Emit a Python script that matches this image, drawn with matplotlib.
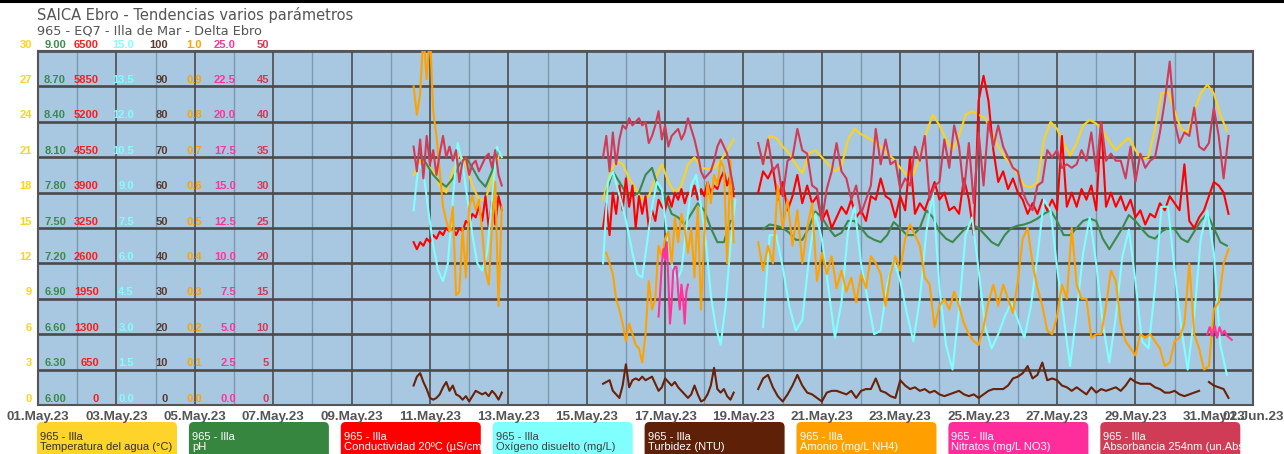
import numpy as np
import matplotlib.pyplot as plt
from matplotlib.patches import FancyBboxPatch
from matplotlib import transforms

plt.rcParams['font.family'] = ['Liberation Sans', 'DejaVu Sans']

W, H = 1284, 454

# ---- data (readings), hours counted from 01.May.23 00:00 ----
# temperatura del agua (ºC), one reading every 4 h
TEMP_A = [19.5, 20.7, 20.4, 19.8, 18.6, 18.0, 19.8, 21.3, 20.4, 18.6, 17.4, 17.4, 19.2, 21.0]
TEMP_B = [17.4, 19.5, 20.7, 20.4, 19.2, 18.3, 17.4, 17.7, 19.2, 20.4, 18.9, 18.0, 18.6, 20.4,
          21.0, 20.1, 20.0, 20.1, 20.7, 21.6, 22.5]
TEMP_C = [20.4, 22.8, 22.65, 21.9, 21.3, 20.4, 19.65, 21.3, 21.6, 21.0, 20.4, 19.8, 20.25, 22.5,
          23.4, 22.95, 22.65, 22.35, 21.9, 21.3, 20.85, 20.1, 19.5, 19.5, 21.0, 23.1, 24.6, 23.7,
          22.5, 21.6, 22.8, 24.6, 24.9, 24.6, 24.3, 23.1, 21.9, 21.0, 20.4, 19.5, 18.6, 18.45,
          18.9, 22.5, 24.0, 23.4, 22.2, 21.15, 22.2, 23.7, 24.15, 23.85, 23.25, 22.35, 21.6, 22.2,
          22.65, 21.6, 20.85, 21.0, 23.4, 26.4, 26.55, 24.9, 23.4, 23.1, 24.9, 26.4, 27.15, 26.4,
          24.6, 23.25]

# pH, every 4 h
PH_A = [8.13, 8.04, 7.95, 7.89, 7.85, 7.92, 8.04, 8.10, 8.01, 7.91, 7.85, 7.98, 8.16]
PH_B = [7.80, 7.98, 7.89, 7.80, 7.77, 7.80, 7.95, 8.01, 7.83, 7.77, 7.62, 7.59, 7.53, 7.62,
        7.71, 7.65, 7.50, 7.38, 7.38, 7.56]
PH_C = [7.49, 7.53, 7.52, 7.50, 7.46, 7.40, 7.40, 7.50, 7.64, 7.59, 7.50, 7.43, 7.46, 7.56,
        7.56, 7.50, 7.43, 7.40, 7.38, 7.44, 7.55, 7.50, 7.44, 7.44, 7.50, 7.65, 7.59, 7.47,
        7.41, 7.38, 7.44, 7.50, 7.53, 7.50, 7.44, 7.38, 7.35, 7.44, 7.50, 7.52, 7.53, 7.55,
        7.58, 7.62, 7.65, 7.56, 7.44, 7.44, 7.50, 7.56, 7.58, 7.56, 7.41, 7.32, 7.41, 7.50,
        7.61, 7.56, 7.49, 7.43, 7.41, 7.47, 7.50, 7.49, 7.41, 7.38, 7.47, 7.56, 7.62, 7.50,
        7.38, 7.35]

# conductividad 20ºC (uS/cm): A, B every 2 h, C every 3 h
COND_A = [2990, 2860, 2990, 2925, 3055, 2990, 3120, 3055, 3185, 3120, 3250, 3185, 3250, 3120,
          3250, 3185, 3380, 3315, 3510, 3445, 3640, 3380, 3835, 3250, 3770, 3315, 3835, 3575]
COND_B = [3250, 3705, 3120, 3900, 3510, 4030, 3575, 4160, 3640, 4030, 3250, 3835, 3510, 3835,
          3250, 3575, 3380, 3770, 3640, 3575, 3835, 3640, 3900, 3770, 3965, 3705, 3900, 3835,
          4030, 3770, 3965, 3835, 4095, 3900, 4030, 3965, 4160, 4290, 4030, 4225, 3835]
COND_C = [3900, 4290, 4160, 4355, 3770, 4095, 3575, 3835, 4225, 3705, 4030, 3705, 3835, 3380,
          3575, 3250, 3445, 3640, 3510, 3770, 3445, 3575, 3380, 3835, 3770, 4160, 3835, 3770,
          3445, 3835, 3575, 4550, 3510, 3705, 3575, 3835, 4095, 3770, 3900, 3575, 3640, 3510,
          4160, 3770, 3120, 5590, 6045, 5590, 4680, 4095, 4290, 3965, 4160, 3900, 3770, 3510,
          3705, 3510, 3770, 3575, 3770, 3575, 4940, 3640, 3900, 3640, 3965, 3770, 4030, 3575,
          5200, 3640, 3900, 3640, 3835, 3575, 3770, 3445, 3575, 3315, 3510, 3445, 3705, 3575,
          3835, 3705, 3575, 4420, 3380, 3250, 3445, 3575, 3835, 4095, 4030, 3900, 3510]

# oxigeno disuelto (mg/L): A, B every 3 h, C every 4 h
OXY_A = [8.25, 10.2, 9.9, 8.25, 6.75, 5.7, 5.25, 6.0, 8.7, 11.1, 10.2, 8.7, 7.2, 6.0, 5.7,
         6.45, 8.7, 10.95, 10.5]
OXY_B = [6.0, 9.45, 9.9, 9.15, 8.4, 7.5, 6.45, 5.55, 5.4, 6.9, 8.4, 9.45, 9.15, 7.35, 6.0,
         5.25, 5.7, 7.5, 9.3, 9.75, 8.4, 6.9, 4.65, 3.3, 2.55, 4.2, 6.75, 8.7]
OXY_C = [3.3, 7.2, 7.2, 5.85, 4.2, 3.15, 3.6, 6.15, 8.1, 7.05, 4.95, 2.85, 4.35, 7.35, 8.4,
         6.0, 4.5, 3.0, 3.15, 5.1, 6.15, 5.25, 3.9, 2.7, 4.5, 7.35, 9.0, 4.95, 2.55, 1.5,
         4.05, 7.2, 7.95, 5.7, 3.3, 2.4, 3.0, 3.75, 4.35, 3.6, 2.85, 4.2, 6.3, 8.7, 8.25,
         5.85, 3.75, 1.65, 3.9, 6.45, 7.95, 6.0, 3.45, 1.8, 3.75, 6.3, 7.43, 5.25, 2.7, 2.4,
         4.95, 8.4, 8.4, 5.7, 3.3, 1.5, 3.75, 7.05, 8.25, 6.45, 2.55, 1.28]

# turbidez (NTU): A, B every 2 h, C every 3 h
TURB_A = [5.5, 8.0, 9.0, 6.5, 4.5, 2.0, 1.5, 2.0, 3.0, 5.0, 6.5, 4.0, 5.5, 3.0, 2.5, 1.5,
          2.5, 1.0, 2.5, 4.0, 3.5, 3.0, 3.5, 2.5, 4.0, 3.0, 1.5, 3.5]
TURB_B = [6.0, 6.5, 7.0, 4.0, 3.0, 2.0, 5.5, 11.5, 5.0, 7.0, 7.5, 7.0, 8.0, 7.0, 7.5, 8.0,
          6.0, 4.0, 5.0, 7.5, 6.5, 5.5, 6.5, 5.0, 4.0, 3.0, 2.0, 3.0, 5.5, 3.0, 1.0, 1.5,
          3.0, 5.5, 10.5, 4.5, 3.5, 4.5, 2.5, 1.5, 3.5]
TURB_C = [4.5, 7.5, 8.5, 5.0, 2.5, 1.0, 3.0, 5.5, 8.5, 5.5, 3.5, 3.0, 2.0, 1.0, 3.5, 4.0,
          4.0, 3.5, 3.0, 4.0, 2.0, 4.0, 4.5, 4.5, 7.5, 4.0, 3.5, 2.5, 2.0, 7.0, 5.5, 4.5,
          5.0, 4.0, 4.5, 3.5, 4.0, 3.0, 2.5, 3.0, 3.5, 4.0, 3.0, 2.5, 3.0, 2.0, 3.0, 4.0,
          4.5, 4.5, 4.5, 5.5, 7.5, 8.0, 9.0, 11.0, 7.5, 8.5, 12.0, 7.0, 7.5, 7.0, 5.5, 5.0,
          4.0, 5.0, 4.0, 3.0, 5.0, 3.5, 4.5, 4.0, 4.5, 5.0, 4.0, 5.5, 7.5, 6.5, 6.0, 6.0,
          6.0, 5.0, 4.5, 3.5, 3.5, 4.0, 3.0, 2.5, 3.0, 3.5, 4.0, np.nan, 6.5, 5.5, 5.0, 4.5, 2.0]

# amonio (mg/L NH4): A, B every 2 h, C every 3 h
AMON_A = [0.90, 0.82, 0.88, 1.05, 0.92, 1.05, 0.83, 0.76, 0.66, 0.56, 0.52, 0.49, 0.56, 0.31,
          0.32, 0.50, 0.36, 0.56, 0.59, 0.55, 0.58, 0.49, 0.38, 0.34, 0.50, 0.63, 0.28, 0.56]
AMON_B = [0.43, 0.40, 0.37, 0.30, 0.27, 0.23, 0.18, 0.23, 0.20, 0.17, 0.16, 0.12, 0.20, 0.35,
          0.27, 0.30, 0.45, 0.42, 0.47, 0.49, 0.40, 0.53, 0.46, 0.54, 0.50, 0.43, 0.50, 0.36,
          0.56, 0.27, 0.48, 0.63, 0.57, 0.65, 0.62, 0.69, 0.67, 0.40, 0.69, 0.46]
AMON_C = [0.46, 0.38, 0.45, 0.40, 0.62, 0.50, 0.58, 0.45, 0.55, 0.40, 0.50, 0.57, 0.35, 0.43,
          0.37, 0.42, 0.33, 0.38, 0.32, 0.36, 0.29, 0.37, 0.33, 0.42, 0.40, 0.37, 0.28, 0.37,
          0.42, 0.38, 0.47, 0.51, 0.48, 0.45, 0.36, 0.34, 0.22, 0.28, 0.30, 0.27, 0.32, 0.28,
          0.23, 0.20, 0.18, 0.17, 0.22, 0.29, 0.34, 0.28, 0.34, 0.30, 0.26, 0.35, 0.47, 0.50,
          0.40, 0.33, 0.28, 0.21, 0.20, 0.25, 0.34, 0.30, 0.50, 0.34, 0.30, 0.30, 0.19, 0.20,
          0.20, 0.28, 0.38, 0.35, 0.23, 0.18, 0.16, 0.14, 0.20, 0.19, 0.20, 0.18, 0.16, 0.11,
          0.12, 0.18, 0.19, 0.23, 0.40, 0.20, 0.16, 0.10, 0.11, 0.27, 0.29, 0.40, 0.44]

# nitratos (mg/L NO3): B every 1 h, C every 1.5 h
NITR_B = [6.25, 8.0, 10.0, 11.0, 10.25, 11.5, 8.75, 5.75, 7.25, 9.5, 9.75, 9.75, 8.0, 6.75,
          8.5, 7.5, 5.75, 8.0, 8.5]
NITR_C = [5.0, 5.5, 4.9, 5.6, 4.75, 5.5, 5.0, 5.25, 4.9, 4.75, 4.6]

# absorbancia 254nm (un.Abs): A, B every 2 h, C every 3 h
ABS_A = [36.5, 33, 37.5, 32, 38, 34, 36, 32.5, 35.5, 38, 35, 36.5, 34.5, 36, 31.5, 34.5, 35,
         32.5, 34, 34.5, 33, 34, 35, 35.5, 33.5, 36, 32.5, 31]
ABS_B = [35, 38, 33, 38.5, 34, 37.5, 39.5, 39, 40.5, 39.5, 40, 40.5, 39.5, 40, 37, 38, 39.5,
         41.5, 37.5, 39.5, 36.5, 38, 38.5, 39, 37.5, 38.5, 40.5, 39, 37.5, 35.5, 33, 32, 32.5,
         33, 34.5, 36.5, 37.5, 36.5, 35.5, 33, 30.5]
ABS_C = [37, 34, 37.5, 33, 34, 29.5, 34.5, 35, 39, 36, 35.5, 31, 30.5, 26, 30.5, 33, 37, 33,
         32, 29, 31, 27, 29, 31, 39, 34, 37.5, 34, 34.5, 30.5, 32, 31, 36.5, 34.5, 38, 29, 31,
         31.5, 37.5, 33.5, 39.5, 36.5, 30, 37, 28.5, 38.5, 31, 40, 36.5, 39.5, 36.5, 35, 33.5,
         33, 30, 28.5, 27.5, 31, 31.5, 36, 35, 36, 33.5, 34, 33.5, 34, 36, 34.5, 38.5, 33, 40,
         34.5, 35.5, 34.5, 34.5, 32, 36.5, 31.5, 35.5, 33.5, 34.5, 35, 38.5, 43, 48.5, 40, 37,
         38.5, 38, 42, 36.5, 36, 37, 42, 38, 32, 38]

# x axis
TICK_DAYS = list(range(0, 31, 2)) + [31]
TICK_LABELS = ['%02d.May.23' % (d + 1) for d in range(0, 31, 2)] + ['01.Jun.23']

# parameters: (legend text, colour, label colour, box text colour, min, max, label format,
#              label right edge px, runs of readings)
PARAMS = [
    ('Temperatura del agua (°C)', '#ffd21a', '#ffd21a', '#303030', 0, 30, '%.0f', 32,
     [(230, 4, TEMP_A), (346, 4, TEMP_B), (444, 4, TEMP_C)]),
    ('pH', '#3b8a4c', '#3b8a4c', 'white', 6.0, 9.0, '%.2f', 66,
     [(234, 4, PH_A), (348, 4, PH_B), (444, 4, PH_C)]),
    ('Conductividad 20ºC (µS/cm)', '#ff0000', '#ff1a1a', 'white', 0, 6500, '%.0f', 99,
     [(230, 2, COND_A), (346, 2, COND_B), (441, 3, COND_C)]),
    ('Oxígeno disuelto (mg/L)', '#80ffff', '#80ffff', '#404040', 0, 15, '%.1f', 134,
     [(230, 3, OXY_A), (346, 3, OXY_B), (444, 4, OXY_C)]),
    ('Turbidez (NTU)', '#6a2108', '#5a3a2e', 'white', 0, 100, '%.0f', 168,
     [(230, 2, TURB_A), (346, 2, TURB_B), (441, 3, TURB_C)]),
    ('Amonio (mg/L NH4)', '#ffa200', '#ffa200', 'white', 0, 1.0, '%.1f', 202,
     [(230, 2, AMON_A), (348, 2, AMON_B), (441, 3, AMON_C)]),
    ('Nitratos (mg/L NO3)', '#ff3399', '#ff3399', 'white', 0, 25, '%.1f', 236,
     [(380, 1, NITR_B), (716, 1.5, NITR_C)]),
    ('Absorbancia 254nm (un.Abs)', '#d33a56', '#d33a56', 'white', 0, 50, '%.0f', 269,
     [(230, 2, ABS_A), (346, 2, ABS_B), (441, 3, ABS_C)]),
]
BOX_COLORS = ['#ffd42a', '#37863f', '#ff0000', '#80ffff', '#5e2108', '#ffa000', '#ff2d9b', '#d03c55']

fig = plt.figure(figsize=(W / 100, H / 100), dpi=100)

# pixel canvas for titles and legend
lay = fig.add_axes([0, 0, 1, 1])
lay.set_xlim(0, W)
lay.set_ylim(H, 0)
lay.axis('off')
lay.axhline(1, color='black', lw=2.2)
lay.text(37, 15, 'SAICA Ebro - Tendencias varios parámetros', fontsize=10.5, color='#555555',
         va='center', ha='left', family='DejaVu Sans')
lay.text(37, 31, '965 - EQ7 - Illa de Mar - Delta Ebro', fontsize=9.3, color='#555555',
         va='center', ha='left', family='DejaVu Sans')

ax = fig.add_axes([38 / W, 1 - 405 / H, (1253 - 38) / W, (405 - 51) / H])
ax.set_facecolor('#a8c8e2')
ax.set_xlim(0, 31)
ax.set_ylim(0, 30)
ax.set_yticks(np.arange(0, 31, 3))
ax.set_xticks(TICK_DAYS)
ax.set_xticklabels(TICK_LABELS)
ax.set_xticks(np.arange(1, 31, 2), minor=True)
ax.grid(axis='y', color='#4a4a4a', lw=1.9, zorder=1)
ax.grid(axis='x', which='major', color='#555555', lw=1.3)
ax.grid(axis='x', which='minor', color='#7d97ad', lw=1.0)
ax.set_axisbelow(True)
ax.tick_params(axis='both', which='both', length=0)
ax.tick_params(axis='y', labelleft=False)
ax.tick_params(axis='x', labelsize=9.7, labelcolor='#555555', pad=4)
for lab in ax.get_xticklabels():
    lab.set_fontweight('bold')
for sp in ax.spines.values():
    sp.set_color('#555555')
    sp.set_linewidth(1.5)

up = transforms.ScaledTranslation(0, 3.5 / 100, fig.dpi_scale_trans)
for i, (name, col, lcol, tcol, lo, hi, fmt, xr, runs) in enumerate(PARAMS):
    if i == 0:
        sax = ax
    else:
        sax = ax.twinx()
        sax.set_axis_off()
    sax.set_ylim(lo, hi)
    for start, step, vals in runs:
        t = (start + step * np.arange(len(vals))) / 24.0
        sax.plot(t, vals, color=col, lw=1.5, zorder=3)
    trans = transforms.blended_transform_factory(fig.transFigure, sax.transData) + up
    for v in np.linspace(lo, hi, 11):
        sax.text(xr / W, v, fmt % v, transform=trans, ha='right', va='baseline',
                 fontsize=8, fontweight='bold', color=lcol, clip_on=False)

    # legend box
    x0 = 37 + i * 151.9
    box = FancyBboxPatch((x0, 422), 140, 45, boxstyle='round,pad=0,rounding_size=5',
                         fc=BOX_COLORS[i], ec='none')
    lay.add_patch(box)
    txt = lay.text(x0 + 3, 442, '965 - Illa\n' + name, fontsize=8, color=tcol,
                   ha='left', va='center', linespacing=0.9)
    txt.set_clip_path(box)

fig.savefig('out.png', dpi=100)
